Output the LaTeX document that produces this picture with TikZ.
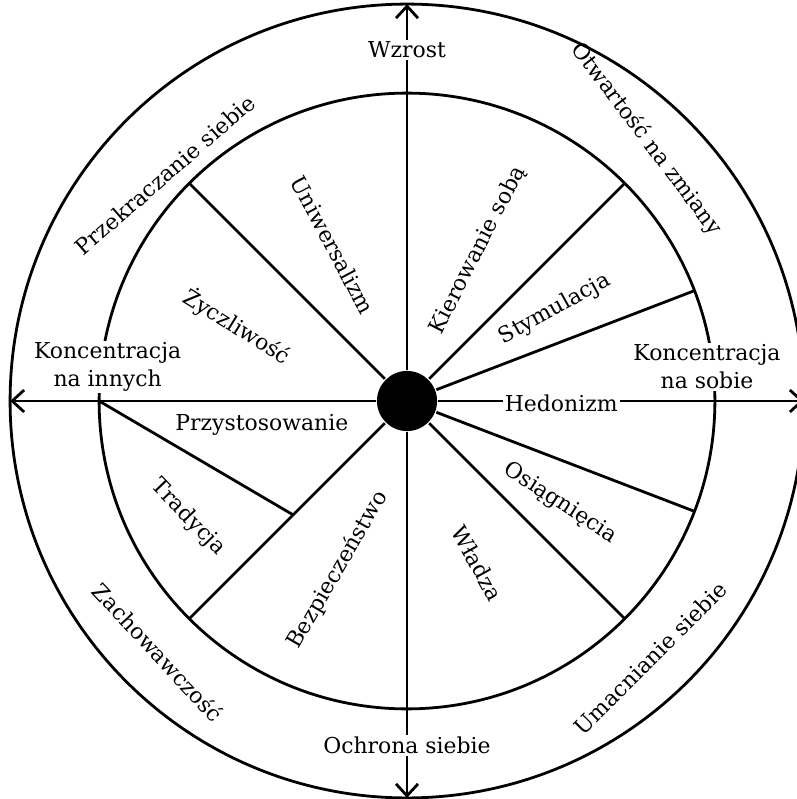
\documentclass[tikz,border=0pt]{standalone}
\usepackage{fontspec}
\setmainfont{DejaVu Serif}
\usetikzlibrary{arrows.meta,calc}

\begin{document}
\begin{tikzpicture}[
    line width=1.4pt,
    lab/.style={font=\fontsize{11}{14}\selectfont, inner sep=1pt, align=center},
    mask/.style={lab, fill=white},
    axis/.style={-{Straight Barb[length=6pt,width=11pt]}},
    hub/.style={circle, fill=black, minimum size=1.06cm, inner sep=0pt}
]
\def\rout{7}
\def\rin{5.43}
\useasboundingbox (-7.178,-7.019) rectangle (6.861,7.072);

% Rings
\node[hub] (hub) at (0,0) {};
\draw (hub.center) circle (\rout);
\draw (hub.center) circle (\rin);

% Spokes of the inner circle
\foreach \a/\n in {45/ne, 135/nw, -135/sw, -45/se, 21/ene, -21/ese} {
    \coordinate (r\n) at (\a:\rin);
    \draw (hub) -- (r\n);
}
% Tradition sits inside the security sector
\coordinate (rw) at (180:\rin);
\coordinate (trd) at (-135:2.84);
\draw (rw) -- (trd);

% Axes
\foreach \a/\n in {90/top, -90/bot, 180/lft, 0/rgt} {
    \coordinate (\n) at (\a:\rout);
    \draw[axis] (hub) -- (\n);
}

% Axis labels
\node[mask] (grow) at (0,6.19) {Wzrost};
\node[mask] (prot) at (0,-6.07) {Ochrona siebie};
\node[mask] (othr) at (-5.28,0.6) {Koncentracja\\na innych};
\node[mask] (self) at (5.29,0.6) {Koncentracja\\na sobie};

% Outer ring
\node[lab, rotate=41]  (trans) at (-4.27,3.99) {Przekraczanie siebie};
\node[lab, rotate=-53] (open)  at (4.22,4.62)  {Otwartość na zmiany};
\node[lab, rotate=45]  (enh)   at (4.29,-4.53) {Umacnianie siebie};
\node[lab, rotate=-47] (cons)  at (-4.39,-4.43) {Zachowawczość};

% Values
\node[lab, rotate=-62] (univ) at (-1.31,2.75)  {Uniwersalizm};
\node[lab, rotate=63]  (sdir) at (1.25,2.66)   {Kierowanie sobą};
\node[lab, rotate=-32] (bene) at (-3.00,1.31)  {Życzliwość};
\node[lab, rotate=29]  (stim) at (2.61,1.62)   {Stymulacja};
\node[mask]            (hedo) at (2.72,-0.035) {Hedonizm};
\node[lab]             (conf) at (-2.56,-0.42) {Przystosowanie};
\node[lab, rotate=-33] (achv) at (2.70,-1.80)  {Osiągnięcia};
\node[lab, rotate=-61] (powr) at (1.24,-2.86)  {Władza};
\node[lab, rotate=60]  (secu) at (-1.22,-2.98) {Bezpieczeństwo};
\node[lab, rotate=-46] (trad) at (-3.86,-2.05) {Tradycja};
\end{tikzpicture}
\end{document}
